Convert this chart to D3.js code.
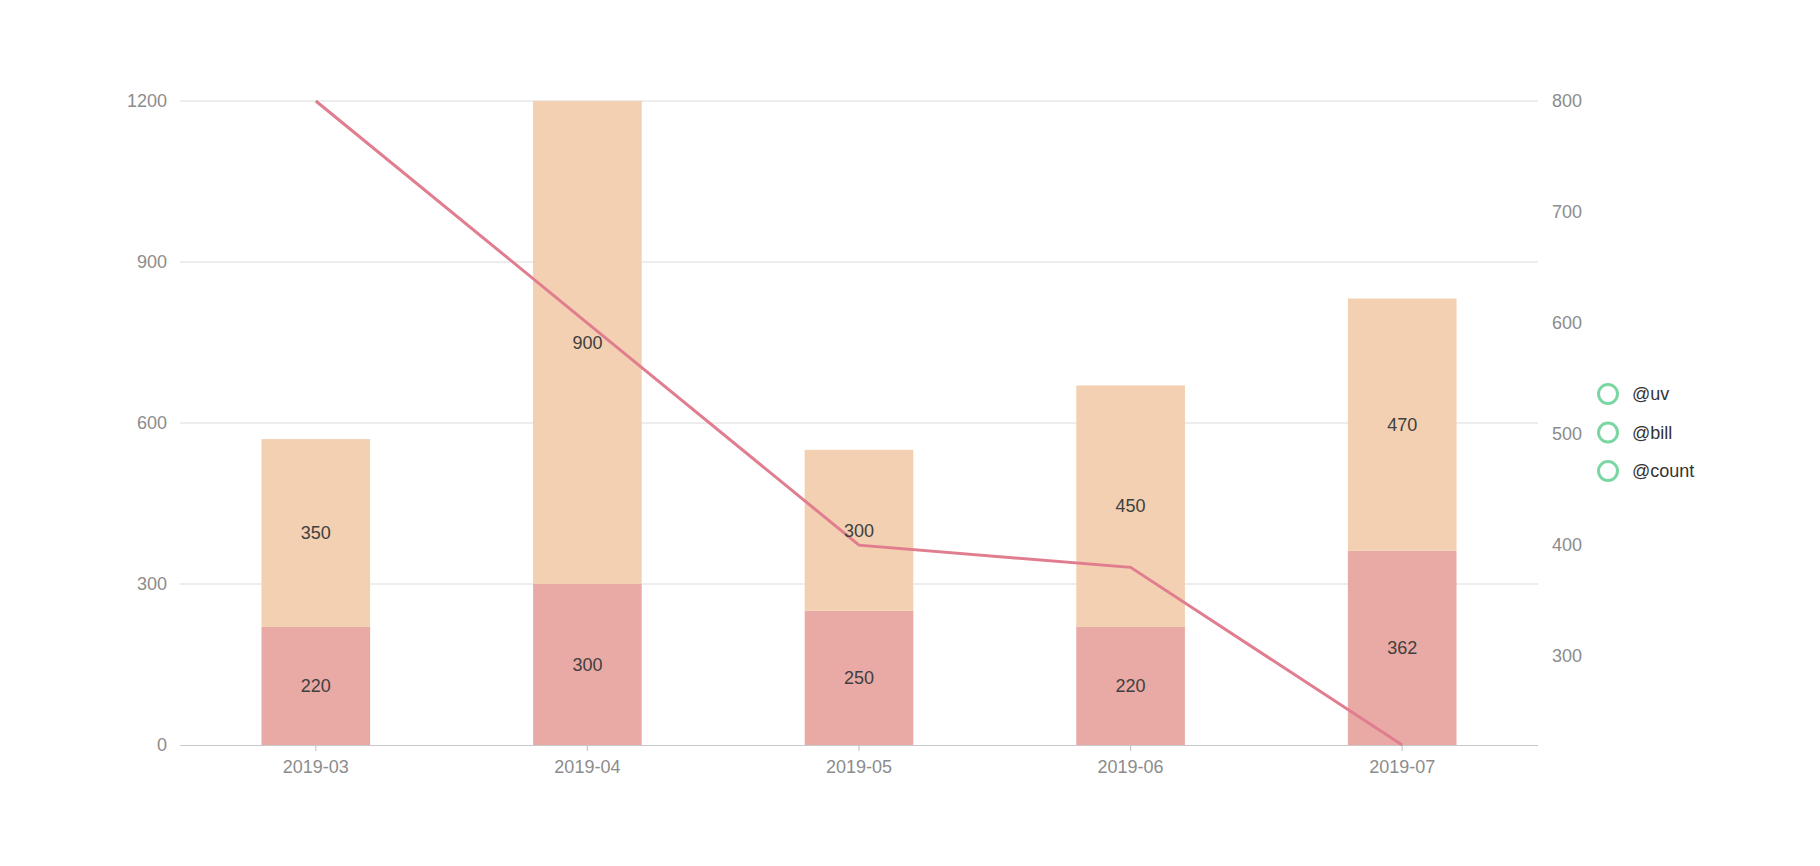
<!DOCTYPE html>
<html><head><meta charset="utf-8">
<script src="https://cdn.jsdelivr.net/npm/d3@7"></script>
<style>body{margin:0;background:#fff;}svg{display:block;font-family:"Liberation Sans",Arial,sans-serif;}</style>
</head><body>
<svg id="chart" width="1820" height="866"></svg>
<script>
const categories = ["2019-03","2019-04","2019-05","2019-06","2019-07"];
const uvValues = [220,300,250,220,362];
const billValues = [350,900,300,450,470];
const countValues = [800,600,400,380,220];
const leftTicks = [0,300,600,900,1200];
const rightTicks = [300,400,500,600,700,800];
const legendItems = ["@uv","@bill","@count"];

const svg = d3.select("#chart");
const m = {left:180, right:1538, top:101, bottom:745};
const x = d3.scaleBand().domain(categories).range([m.left,m.right]).paddingInner(0.6).paddingOuter(0.3);
const xc = d => x(d) + x.bandwidth()/2;
const yL = d3.scaleLinear().domain([0,1200]).range([m.bottom,m.top]);
const yR = d3.scaleLinear().domain([d3.min(countValues),800]).range([m.bottom,m.top]);

// grid
svg.append("g").selectAll("line").data(leftTicks.filter(t=>t>0)).join("line")
  .attr("x1",m.left).attr("x2",m.right).attr("y1",d=>yL(d)).attr("y2",d=>yL(d))
  .attr("stroke","#dcdcdc").attr("stroke-width",1.2);

// left axis labels
svg.append("g").selectAll("text").data(leftTicks).join("text")
  .attr("x",167).attr("y",d=>yL(d)).attr("dy","0.35em").attr("text-anchor","end")
  .attr("font-size",18).attr("fill","#8c8c8c").text(d=>d);
// right axis labels
svg.append("g").selectAll("text").data(rightTicks).join("text")
  .attr("x",1552).attr("y",d=>yR(d)).attr("dy","0.35em").attr("text-anchor","start")
  .attr("font-size",18).attr("fill","#8c8c8c").text(d=>d);

// bars
const data = categories.map((c,i)=>({c, uv:uvValues[i], bill:billValues[i], count:countValues[i]}));
const bars = svg.append("g");
bars.selectAll("rect.uv").data(data).join("rect").attr("class","uv")
  .attr("x",d=>x(d.c)).attr("width",x.bandwidth())
  .attr("y",d=>yL(d.uv)).attr("height",d=>yL(0)-yL(d.uv)).attr("fill","#e9aaa5");
bars.selectAll("rect.bill").data(data).join("rect").attr("class","bill")
  .attr("x",d=>x(d.c)).attr("width",x.bandwidth())
  .attr("y",d=>yL(d.uv+d.bill)).attr("height",d=>yL(d.uv)-yL(d.uv+d.bill)).attr("fill","#f3d0b1");

// bottom axis
svg.append("line").attr("x1",m.left).attr("x2",m.right).attr("y1",m.bottom+0.5).attr("y2",m.bottom+0.5)
  .attr("stroke","#c8c8c8").attr("stroke-width",1.2);
svg.append("g").selectAll("line").data(categories).join("line")
  .attr("x1",d=>xc(d)).attr("x2",d=>xc(d)).attr("y1",m.bottom).attr("y2",m.bottom+6)
  .attr("stroke","#c8c8c8").attr("stroke-width",1.2);
svg.append("g").selectAll("text").data(categories).join("text")
  .attr("x",d=>xc(d)).attr("y",767).attr("dy","0.35em").attr("text-anchor","middle")
  .attr("font-size",18).attr("fill","#8c8c8c").text(d=>d);

// line
const line = d3.line().x(d=>xc(d.c)).y(d=>yR(d.count));
svg.append("path").datum(data).attr("d",line).attr("fill","none")
  .attr("stroke","#e07d8f").attr("stroke-width",3);

// labels
const lab = svg.append("g").attr("font-size",18).attr("fill","#404040").attr("text-anchor","middle");
lab.selectAll("text.uv").data(data).join("text").attr("class","uv")
  .attr("x",d=>xc(d.c)).attr("y",d=>yL(d.uv/2)).attr("dy","0.35em").text(d=>d.uv);
lab.selectAll("text.bill").data(data).join("text").attr("class","bill")
  .attr("x",d=>xc(d.c)).attr("y",d=>yL(d.uv+d.bill/2)).attr("dy","0.35em").text(d=>d.bill);

// legend
const lg = svg.append("g").selectAll("g").data(legendItems).join("g")
  .attr("transform",(d,i)=>`translate(1608,${394+i*38.5})`);
lg.append("circle").attr("r",9.5).attr("fill","#fff").attr("stroke","#7ad6a2").attr("stroke-width",3);
lg.append("text").attr("x",24).attr("dy","0.35em").attr("font-size",18).attr("fill","#333").text(d=>d);
</script>
</body></html>
